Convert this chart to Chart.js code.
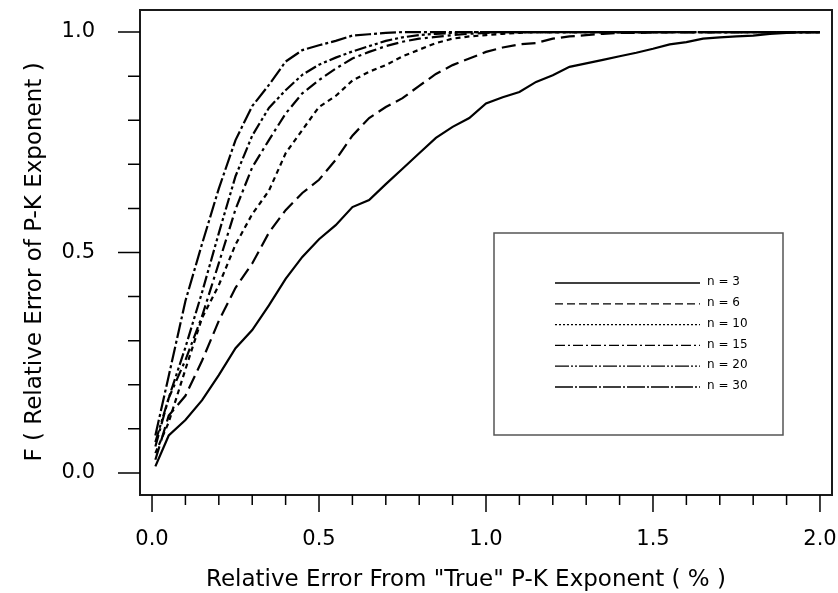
<!DOCTYPE html>
<html>
<head>
<meta charset="utf-8">
<script src="https://cdn.jsdelivr.net/npm/chart.js@4"></script>
<style>
  html, body { margin: 0; padding: 0; background: #fff; }
  #wrap { width: 838px; height: 593px; }
</style>
</head>
<body>
<div id="wrap"><canvas id="myChart"></canvas></div>
<script>
// relative error (%) at which F was evaluated
const xValues = [0.01, 0.05, 0.1, 0.15, 0.2, 0.25, 0.3, 0.35, 0.4, 0.45, 0.5,
  0.55, 0.6, 0.65, 0.7, 0.75, 0.8, 0.85, 0.9, 0.95, 1.0,
  1.05, 1.1, 1.15, 1.2, 1.25, 1.3, 1.35, 1.4, 1.45, 1.5,
  1.55, 1.6, 1.65, 1.7, 1.75, 1.8, 1.85, 1.9, 1.95, 2.0];

const n3 = [0.015, 0.085, 0.12, 0.165, 0.222, 0.283, 0.324, 0.38, 0.44, 0.49, 0.53,
  0.562, 0.603, 0.619, 0.655, 0.69, 0.725, 0.76, 0.785, 0.805, 0.838,
  0.852, 0.864, 0.887, 0.902, 0.921, 0.929, 0.937, 0.945, 0.953, 0.962,
  0.972, 0.977, 0.985, 0.988, 0.99, 0.992, 0.996, 0.998, 1.0, 1.0];
const n6 = [0.03, 0.13, 0.175, 0.255, 0.345, 0.42, 0.475, 0.545, 0.596, 0.635, 0.665,
  0.71, 0.765, 0.805, 0.83, 0.85, 0.878, 0.905, 0.925, 0.94, 0.955,
  0.965, 0.972, 0.975, 0.985, 0.99, 0.993, 0.996, 0.998, 0.998, 0.999,
  1, 1, 1, 1, 1, 1, 1, 1, 1, 1];
const n10 = [0.045, 0.115, 0.235, 0.352, 0.426, 0.518, 0.587, 0.64, 0.725, 0.778, 0.83,
  0.855, 0.89, 0.91, 0.925, 0.945, 0.96, 0.975, 0.985, 0.99, 0.993,
  0.996, 0.998, 1, 1, 1, 1, 1, 1, 1, 1,
  1, 1, 1, 1, 1, 1, 1, 1, 1, 1];
const n15 = [0.06, 0.17, 0.256, 0.356, 0.476, 0.598, 0.693, 0.755, 0.815, 0.861, 0.891,
  0.917, 0.94, 0.955, 0.968, 0.978, 0.985, 0.989, 0.993, 0.996, 0.998,
  1, 1, 1, 1, 1, 1, 1, 1, 1, 1,
  1, 1, 1, 1, 1, 1, 1, 1, 1, 1];
const n20 = [0.07, 0.17, 0.285, 0.41, 0.544, 0.673, 0.765, 0.828, 0.868, 0.903, 0.926,
  0.942, 0.956, 0.968, 0.98, 0.988, 0.993, 0.996, 0.998, 1, 1,
  1, 1, 1, 1, 1, 1, 1, 1, 1, 1,
  1, 1, 1, 1, 1, 1, 1, 1, 1, 1];
const n30 = [0.085, 0.22, 0.39, 0.52, 0.645, 0.755, 0.832, 0.88, 0.933, 0.959, 0.97,
  0.98, 0.992, 0.995, 0.998, 1, 1, 1, 1, 1, 1,
  1, 1, 1, 1, 1, 1, 1, 1, 1, 1,
  1, 1, 1, 1, 1, 1, 1, 1, 1, 1];

const seriesLabels = ['n = 3', 'n = 6', 'n = 10', 'n = 15', 'n = 20', 'n = 30'];

const xTicks = [0, 0.1, 0.2, 0.3, 0.4, 0.5, 0.6, 0.7, 0.8, 0.9, 1.0,
  1.1, 1.2, 1.3, 1.4, 1.5, 1.6, 1.7, 1.8, 1.9, 2.0];
const yTicks = [0, 0.1, 0.2, 0.3, 0.4, 0.5, 0.6, 0.7, 0.8, 0.9, 1.0];

const xTitle = 'Relative Error From "True" P-K Exponent ( % )';
const yTitle = 'F ( Relative Error of P-K Exponent )';

const FONT = 'DejaVu Sans';
const dashes = [[], [14, 6], [5, 4], [12, 4, 3, 4], [12, 3, 3, 3, 3, 3], [16, 3, 3, 3]];
const legendDashes = [[], [8, 4], [2, 2], [10, 3, 2, 3], [14, 2, 2, 2, 2, 2], [18, 2, 2, 2]];

function isMajor(v) {
  return Math.abs(Math.round(v * 10) % 5) === 0;
}

function series(ys, i) {
  return {
    label: seriesLabels[i],
    data: xValues.map((x, k) => ({ x: x, y: ys[k] })),
    borderColor: '#000',
    borderWidth: 2.2,
    borderDash: dashes[i],
    pointRadius: 0,
    fill: false,
    tension: 0
  };
}

// the scales would reserve room for their label padding; we don't want that
function noPad(s) {
  s.paddingTop = 0;
  s.paddingBottom = 0;
  s.paddingLeft = 0;
  s.paddingRight = 0;
}

// frame, outside tick marks, axis titles and the boxed legend
const decor = {
  id: 'decor',
  afterDraw(chart) {
    const ctx = chart.ctx;
    const a = chart.chartArea;
    const x = chart.scales.x, y = chart.scales.y;
    ctx.save();
    ctx.strokeStyle = '#1a1a1a';
    ctx.lineWidth = 2;
    ctx.strokeRect(a.left, a.top, a.right - a.left, a.bottom - a.top);

    ctx.lineWidth = 1.5;
    ctx.strokeStyle = '#000';
    ctx.beginPath();
    xTicks.forEach(v => {
      const px = x.getPixelForValue(v);
      ctx.moveTo(px, a.bottom);
      ctx.lineTo(px, a.bottom + (isMajor(v) ? 17 : 10));
    });
    yTicks.forEach(v => {
      const py = y.getPixelForValue(v);
      ctx.moveTo(a.left, py);
      ctx.lineTo(a.left - (isMajor(v) ? 22 : 12), py);
    });
    ctx.stroke();

    // axis titles
    ctx.fillStyle = '#000';
    ctx.font = '23px "' + FONT + '"';
    ctx.textAlign = 'center';
    ctx.textBaseline = 'middle';
    ctx.fillText(xTitle, 466, 580);
    ctx.save();
    ctx.translate(35, 262);
    ctx.rotate(-Math.PI / 2);
    ctx.fillText(yTitle, 0, 0);
    ctx.restore();

    // legend box
    ctx.strokeStyle = '#555';
    ctx.lineWidth = 1.5;
    ctx.strokeRect(494, 233, 289, 202);
    ctx.font = '12px "' + FONT + '"';
    ctx.textAlign = 'left';
    chart.data.datasets.forEach((ds, i) => {
      const ry = 283 + i * 20.8;
      ctx.lineWidth = 1.3;
      ctx.strokeStyle = '#000';
      ctx.setLineDash(legendDashes[i]);
      ctx.beginPath();
      ctx.moveTo(555, ry);
      ctx.lineTo(700, ry);
      ctx.stroke();
      ctx.setLineDash([]);
      ctx.fillText(ds.label, 707, ry - 1);
    });
    ctx.restore();
  }
};

const config = {
  type: 'line',
  data: {
    datasets: [n3, n6, n10, n15, n20, n30].map(series)
  },
  options: {
    responsive: true,
    maintainAspectRatio: false,
    animation: false,
    layout: { padding: { top: 10, right: 6, left: 0, bottom: 0 } },
    plugins: { legend: { display: false }, tooltip: { enabled: false } },
    scales: {
      x: {
        type: 'linear',
        min: -0.036,
        max: 2.036,
        afterBuildTicks: s => { s.ticks = xTicks.map(v => ({ value: v })); },
        afterFit: s => { s.height = 98; noPad(s); },
        grid: { display: false, drawTicks: false },
        border: { display: false },
        ticks: {
          autoSkip: false,
          maxRotation: 0,
          padding: 32,
          color: '#000',
          font: { family: FONT, size: 21 },
          callback: v => isMajor(v) ? v.toFixed(1) : ''
        }
      },
      y: {
        type: 'linear',
        min: -0.05,
        max: 1.05,
        afterBuildTicks: s => { s.ticks = yTicks.map(v => ({ value: v })); },
        afterFit: s => { s.width = 140; noPad(s); },
        grid: { display: false, drawTicks: false },
        border: { display: false },
        ticks: {
          autoSkip: false,
          padding: 45,
          color: '#000',
          font: { family: FONT, size: 21 },
          callback: v => isMajor(v) ? v.toFixed(1) : ''
        }
      }
    }
  },
  plugins: [decor]
};

const chart = new Chart(document.getElementById('myChart'), config);
</script>
</body>
</html>
